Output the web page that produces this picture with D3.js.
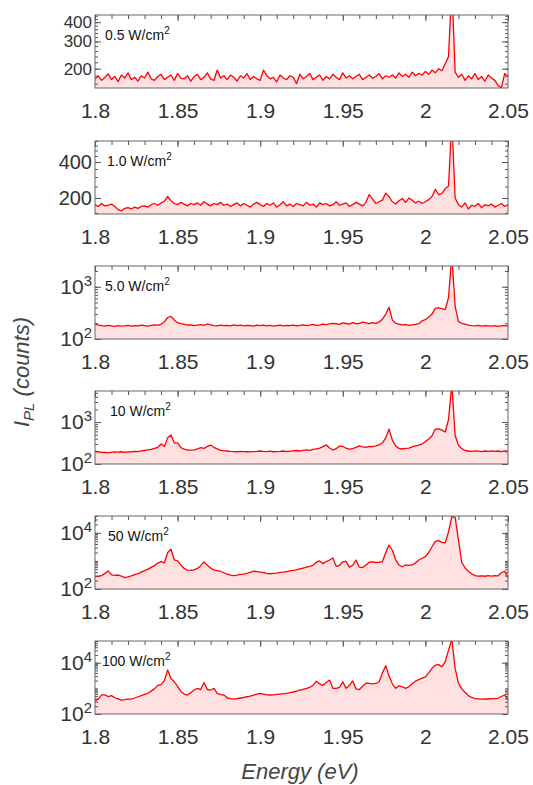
<!DOCTYPE html>
<html>
<head>
<meta charset="utf-8">
<script src="https://cdn.jsdelivr.net/npm/d3@7"></script>
<style>
  body { margin: 0; background: #fff; }
  text { font-family: "Liberation Sans", Arial, sans-serif; }
</style>
</head>
<body>
<script>
// photon energy grid (eV), shared by all spectra
const energy = [
  1.800,1.802,1.804,1.806,1.808,1.810,1.812,1.814,1.816,1.818,
  1.820,1.822,1.824,1.826,1.828,1.830,1.832,1.834,1.836,1.838,
  1.840,1.842,1.844,1.846,1.848,1.850,1.852,1.854,1.856,1.858,
  1.860,1.862,1.864,1.866,1.868,1.870,1.872,1.874,1.876,1.878,
  1.880,1.882,1.884,1.886,1.888,1.890,1.892,1.894,1.896,1.898,
  1.900,1.902,1.904,1.906,1.908,1.910,1.912,1.914,1.916,1.918,
  1.920,1.922,1.924,1.926,1.928,1.930,1.932,1.934,1.936,1.938,
  1.940,1.942,1.944,1.946,1.948,1.950,1.952,1.954,1.956,1.958,
  1.960,1.962,1.964,1.966,1.968,1.970,1.972,1.974,1.976,1.978,
  1.980,1.982,1.984,1.986,1.988,1.990,1.992,1.994,1.996,1.998,
  2.000,2.002,2.004,2.006,2.008,2.010,2.012,2.014,2.016,2.018,
  2.020,2.022,2.024,2.026,2.028,2.030,2.032,2.034,2.036,2.038,
  2.040,2.042,2.044,2.046,2.048,2.050
];

// PL counts, one array per excitation density
const counts05 = [
  172,180,168,176,185,170,178,165,182,174, 188,170,176,166,180,174,190,172,168,178,
  184,170,176,182,168,186,174,172,180,166, 178,184,170,176,188,172,168,196,174,180,
  170,182,176,166,180,174,186,170,178,172, 168,196,180,172,176,164,182,174,170,180,
  176,160,184,172,178,186,170,176,182,168, 178,172,184,176,170,188,174,180,172,178,
  184,170,176,182,174,178,186,172,180,176, 182,174,188,178,184,176,190,180,186,182,
  192,184,196,188,200,194,215,240,700,190, 176,184,168,180,172,186,170,178,166,182,
  174,168,156,150,186,178
];
const counts10 = [
  176,170,180,172,174,178,170,160,156,164, 166,162,168,164,170,172,168,176,180,174,
  182,188,206,190,180,176,184,178,172,180, 176,182,174,186,178,172,180,176,184,174,
  178,170,176,182,172,180,174,168,178,184, 176,170,180,174,182,168,176,186,172,178,
  170,180,176,172,184,174,178,168,182,176, 180,172,176,186,174,178,182,170,176,184,
  178,172,184,214,196,180,186,192,220,205, 186,178,190,198,184,200,192,182,188,180,
  186,194,206,236,214,218,240,252,900,200, 176,168,182,162,174,170,180,166,176,172,
  178,168,174,180,170,176
];
const counts50 = [
  195,184,180,176,182,178,174,180,176,178, 182,176,180,178,184,180,176,182,186,184,
  190,215,258,272,230,205,196,190,184,186, 180,184,188,182,194,186,180,178,184,180,
  182,178,186,180,184,178,182,180,176,184, 180,184,178,182,176,180,184,178,182,180,
  184,178,182,186,180,184,190,182,186,192, 188,194,200,196,190,204,198,192,206,196,
  200,210,204,196,206,200,212,240,300,405, 230,200,192,186,188,182,186,190,196,222,
  236,262,300,385,395,380,365,620,4000,420, 215,200,192,184,180,178,182,176,180,178,
  176,180,174,178,182,176
];
const counts100 = [
  204,196,190,188,186,190,194,192,196,190, 193,196,200,198,205,210,216,224,236,250,
  300,260,420,490,320,318,245,225,215,214, 218,230,245,236,262,283,250,230,212,206,
  204,200,198,196,200,198,196,194,198,200, 204,200,198,202,196,198,200,204,198,202,
  206,210,204,212,218,210,222,230,240,260, 285,240,215,232,268,262,238,225,232,248,
  270,255,248,262,258,270,285,320,420,680, 370,270,235,228,235,240,255,270,283,300,
  340,395,470,680,690,640,580,1150,8000,480, 283,232,210,204,200,206,202,198,204,200,
  206,200,204,198,206,202
];
const counts500 = [
  275,285,300,360,440,320,305,315,290,255, 270,295,325,350,400,450,510,590,680,840,
  940,860,2000,2600,1100,1000,720,540,470,460, 480,540,680,920,700,560,470,450,430,380,
  340,310,300,310,330,340,360,390,430,420, 400,380,360,350,360,370,390,400,420,440,
  460,480,520,560,600,640,700,900,1000,800, 950,1080,1270,640,700,950,960,600,700,1080,
  600,580,720,900,920,880,900,950,2000,3700, 2400,1100,720,620,720,700,720,850,1080,1250,
  1420,2000,3200,5000,5300,4600,4400,11000,38000,36000, 5600,900,560,430,350,300,290,295,285,300,
  290,300,295,380,430,245
];
const counts1000 = [
  320,380,560,560,480,520,430,390,350,360, 380,380,420,470,520,580,640,780,950,1300,
  1400,2000,5200,2400,1800,1200,760,600,550,680, 860,1000,900,1700,900,860,1000,640,570,550,
  430,400,380,400,420,440,470,500,540,600, 640,600,560,550,560,580,600,620,640,680,
  720,780,850,920,1000,1100,1300,1900,1500,1300, 1700,2100,1000,1000,1100,1800,1000,1300,1950,950,
  900,1200,1600,1550,1500,1550,1800,4000,7600,3000, 1500,1000,1250,1150,1000,1160,1500,1900,2200,2500,
  2800,4000,6000,8000,8400,7000,11000,31000,80000,6000, 1600,950,700,520,440,400,390,380,390,385,
  395,400,410,480,550,350
];

const spectra = [counts05, counts10, counts50, counts100, counts500, counts1000];
const powerLabels = ["0.5", "1.0", "5.0", "10", "50", "100"];
const yDomains = [[150, 445], [147, 600], [100, 2500], [100, 5500], [100, 40000], [100, 70000]];
const yLabelTicks = [[200, 300, 400], [200, 400], [100, 1000], [100, 1000], [100, 10000], [100, 10000]];
const xTicks = [1.8, 1.85, 1.9, 1.95, 2, 2.05];

const width = 533, height = 785;
const left = 95, right = 508, panelH = 73;
const tops = [15, 141, 266, 391, 516, 641];
const labelX = [105, 107, 105, 110, 108, 102];
const yLabelSize = [17, 20, 21, 21, 21, 21];

const svg = d3.select("body").append("svg")
    .attr("width", width)
    .attr("height", height);

const x = d3.scaleLinear().domain([1.8, 2.05]).range([left, right]);
const xMinor = d3.range(0, 26).map(i => 1.8 + i * 0.01);

function minorTicks(domain) {
    const out = [];
    const [lo, hi] = domain;
    if (hi < 1000) {
        const step = hi < 500 ? 20 : 50;
        for (let v = Math.ceil(lo / step) * step; v <= hi; v += step) out.push(v);
    } else {
        for (let p = 2; p < 6; p++)
            for (let m = 1; m < 10; m++) {
                const v = m * Math.pow(10, p);
                if (v >= lo && v <= hi) out.push(v);
            }
    }
    return out;
}

function styleTicks(g) {
    g.select(".domain").remove();
    g.selectAll("line").attr("stroke", "#555");
}

spectra.forEach((vals, k) => {
    const top = tops[k], bot = top + panelH;
    const y = d3.scaleLog().domain(yDomains[k]).range([bot, top]);
    const g = svg.append("g");

    g.append("clipPath").attr("id", "clip" + k)
      .append("rect")
        .attr("x", left).attr("y", top)
        .attr("width", right - left).attr("height", panelH);

    const area = d3.area()
        .x((d, i) => x(energy[i]))
        .y0(bot)
        .y1(d => y(d));
    const line = d3.line()
        .x((d, i) => x(energy[i]))
        .y(d => y(d));

    g.append("path")
        .datum(vals)
        .attr("clip-path", `url(#clip${k})`)
        .attr("fill", "#ffe1e1")
        .attr("d", area);
    g.append("path")
        .datum(vals)
        .attr("clip-path", `url(#clip${k})`)
        .attr("fill", "none")
        .attr("stroke", "#ff0000")
        .attr("stroke-width", 1.3)
        .attr("stroke-linejoin", "round")
        .attr("d", line);

    // top ticks, pointing inward
    g.append("g")
        .attr("transform", `translate(0,${top})`)
        .call(d3.axisTop(x).tickValues(xMinor).tickSize(-4).tickFormat(""))
        .call(styleTicks);
    g.append("g")
        .attr("transform", `translate(0,${top})`)
        .call(d3.axisTop(x).tickValues(xTicks).tickSize(-6).tickFormat(""))
        .call(styleTicks);

    // bottom labels
    g.append("g")
        .attr("transform", `translate(0,${bot})`)
        .call(d3.axisBottom(x).tickValues(xTicks).tickSize(0).tickPadding(15)
            .tickFormat(d => String(+d.toFixed(2))))
        .call(styleTicks)
        .selectAll("text")
        .attr("font-size", 21)
        .attr("fill", "#333");

    // left and right ticks
    const minors = minorTicks(yDomains[k]);
    [[d3.axisLeft, left], [d3.axisRight, right]].forEach(([axisFn, xpos]) => {
        g.append("g")
            .attr("transform", `translate(${xpos},0)`)
            .call(axisFn(y).tickValues(minors).tickSize(-3).tickFormat(""))
            .call(styleTicks);
        g.append("g")
            .attr("transform", `translate(${xpos},0)`)
            .call(axisFn(y).tickValues(yLabelTicks[k].filter(v => v >= yDomains[k][0])).tickSize(-6).tickFormat(""))
            .call(styleTicks);
    });

    // left labels
    const yl = g.append("g")
        .attr("transform", `translate(${left - 3},0)`)
        .call(d3.axisLeft(y).tickValues(yLabelTicks[k]).tickSize(0).tickPadding(0)
            .tickFormat(d => String(d)))
        .call(styleTicks);
    yl.selectAll("text")
        .attr("font-size", yLabelSize[k])
        .attr("fill", "#333")
        .each(function(d) {
            if (yDomains[k][1] < 1000) return;
            const t = d3.select(this).text("10");
            t.append("tspan")
                .attr("font-size", 15)
                .attr("dy", "-0.55em")
                .text(Math.round(Math.log10(d)));
        });

    // frame
    g.append("rect")
        .attr("x", left).attr("y", top)
        .attr("width", right - left).attr("height", panelH)
        .attr("fill", "none")
        .attr("stroke", "#666")
        .attr("stroke-width", 1);

    // power density label
    const lab = g.append("text")
        .attr("x", labelX[k]).attr("y", top + 25)
        .attr("font-size", 14)
        .attr("fill", "#111")
        .text(powerLabels[k] + " W/cm");
    lab.append("tspan").attr("font-size", 10).attr("dy", "-0.6em").text("2");
});

// axis titles
svg.append("text")
    .attr("x", 300).attr("y", 779)
    .attr("text-anchor", "middle")
    .attr("font-size", 22)
    .attr("font-style", "italic")
    .attr("fill", "#444")
    .text("Energy (eV)");

const yt = svg.append("text")
    .attr("transform", "translate(29,372) rotate(-90)")
    .attr("text-anchor", "middle")
    .attr("font-size", 22)
    .attr("font-style", "italic")
    .attr("fill", "#444");
yt.append("tspan").text("I");
yt.append("tspan").attr("font-size", 15).attr("dy", 5).text("PL");
yt.append("tspan").attr("dy", -5).text(" (counts)");
</script>
</body>
</html>
